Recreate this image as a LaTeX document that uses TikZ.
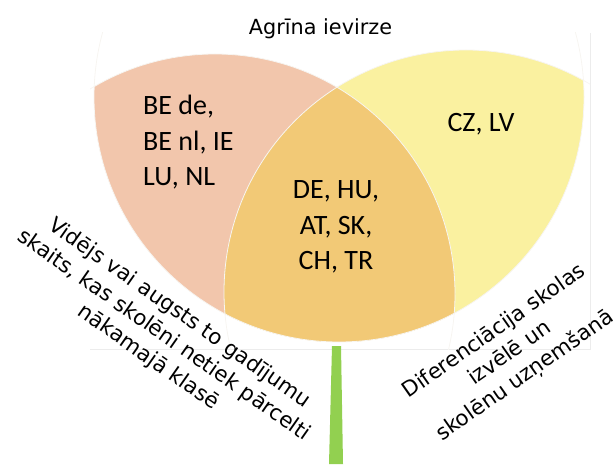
\documentclass[tikz,border=0pt]{standalone}
\usepackage{fontspec}
\newfontfamily\calib{Carlito}
\newfontfamily\dejavu{DejaVu Sans}
\definecolor{leafL}{RGB}{242,198,172}
\definecolor{leafR}{RGB}{250,241,160}
\definecolor{leafM}{RGB}{242,201,118}
\definecolor{stemgreen}{RGB}{146,208,80}
\definecolor{rim}{RGB}{247,245,241}
\definecolor{framegrey}{RGB}{236,236,236}
\begin{document}
\begin{tikzpicture}[x=1pt,y=1pt,
  country/.style={font=\calib\fontsize{28}{35.5}\selectfont, inner sep=0pt},
  slanted/.style={font=\dejavu\fontsize{21.3}{27}\selectfont, inner sep=0pt, align=center},
  titletext/.style={font=\dejavu\fontsize{20.8}{25}\selectfont, inner sep=0pt},
  rimline/.style={draw=rim, line width=0.8pt},
  frameline/.style={draw=framegrey, line width=0.8pt}]
\useasboundingbox (0,0) rectangle (613,464);
% plot area corners
\coordinate (pSW) at (90,115);
\coordinate (pSE) at (590,115);
\coordinate (pNE) at (590,431);
% circle centres
\coordinate (cB) at (339,367);
\coordinate (cL) at (215,170);
\coordinate (cR) at (466,172);
% faint plot-area frame
\draw[frameline] (pSW) -- (pSE) -- (pNE);
% filled leaves
\begin{scope}
  \clip (cB) circle[radius=245];
  \fill[leafL] (cL) circle[radius=240];
  \fill[leafR] (cR) circle[radius=242];
  \clip (cL) circle[radius=240];
  \fill[leafM] (cR) circle[radius=242];
\end{scope}
% faint circle outlines
\begin{scope}
  \clip (pSW) rectangle (pNE);
  \draw[rimline] (cB) circle[radius=245];
  \draw[rimline] (cL) circle[radius=240];
  \draw[rimline] (cR) circle[radius=242];
\end{scope}
% stem
\fill[stemgreen] (332,118) -- (341,118) -- (343,0) -- (329,0) -- cycle;
% texts
\node[titletext, anchor=base] (ttl) at (320.5,429) {Agrīna ievirze};
\node[country, anchor=west, align=left] (lt) at (143,321.5) {BE de,\\BE nl, IE\\LU, NL};
\node[country, align=center] (mid) at (336,237) {DE, HU,\\AT, SK,\\CH, TR};
\node[country, anchor=base] (rt) at (481,332.3) {CZ, LV};
\node[slanted, rotate=-35] (lab1) at (163.7,128.5) {Vidējs vai augsts to gadījumu\\skaits, kas skolēni netiek pārcelti\\nākamajā klasē};
\node[slanted, rotate=35] (lab2) at (510,110) {Diferenciācija skolas\\izvēlē un\\skolēnu uzņemšanā};
\end{tikzpicture}
\end{document}
